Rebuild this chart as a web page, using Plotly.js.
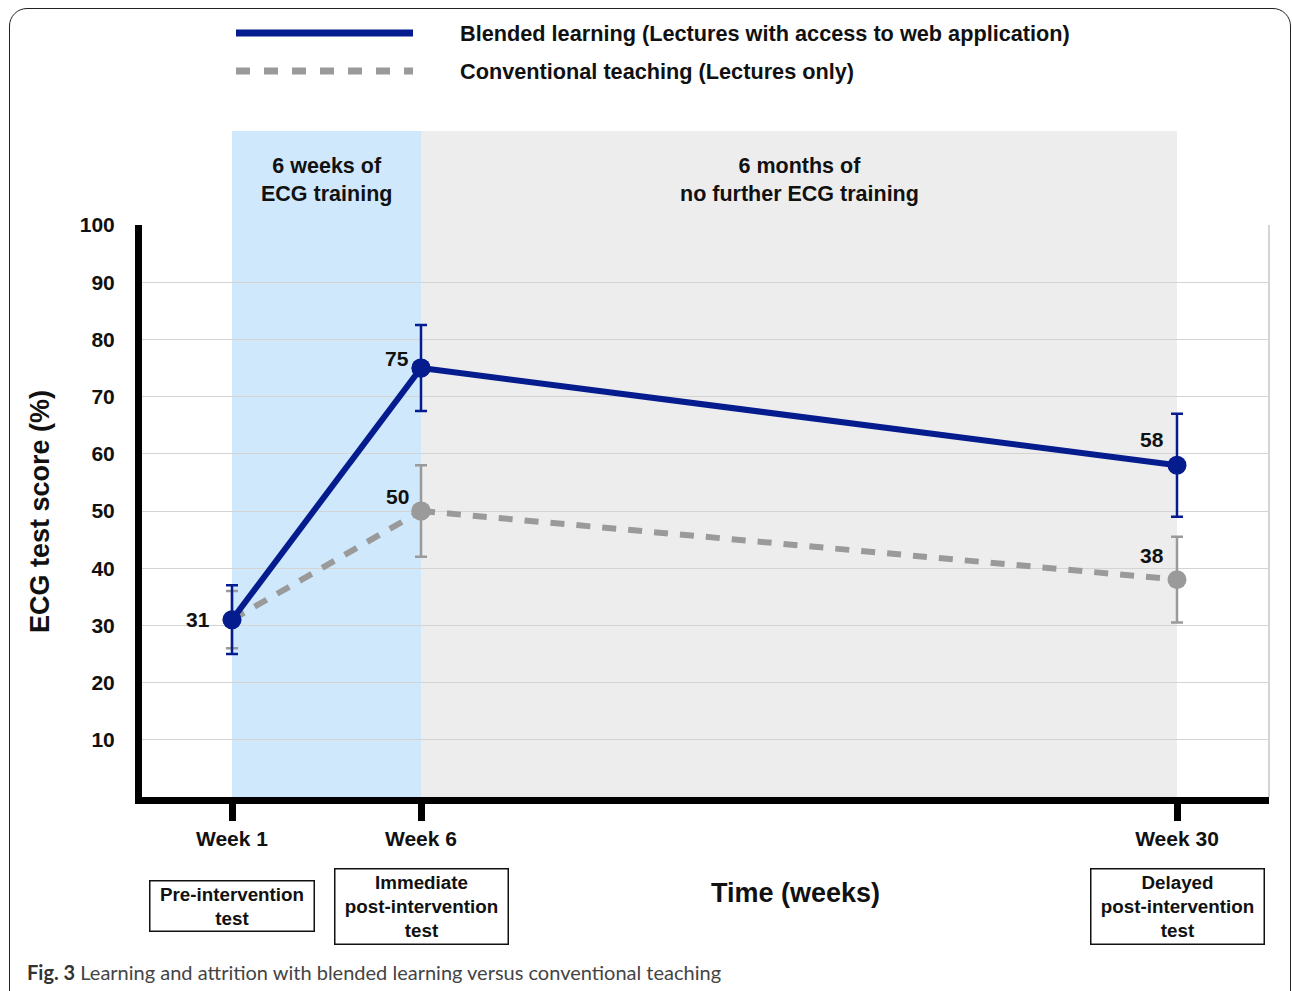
<!DOCTYPE html>
<html><head><meta charset="utf-8">
<script src="https://cdn.plot.ly/plotly-3.0.1.min.js"></script>
<style>
html,body{margin:0;padding:0;background:#fff;}
#frame{position:absolute;left:9px;top:8px;width:1282px;height:1100px;border:1.6px solid #222;border-radius:18px;box-sizing:border-box;}
#chart{position:absolute;left:0;top:0;width:1292px;height:991px;}
</style></head><body>
<div id="frame"></div><div id="chart"></div>
<script>
// ---- data ----
const weeks = [1, 6, 30];
const weekLabels = ['Week 1', 'Week 6', 'Week 30'];
const testLabels = ['Pre-intervention<br>test', 'Immediate<br>post-intervention<br>test', 'Delayed<br>post-intervention<br>test'];
const blendedScores = [31, 75, 58];
const blendedErr = [6, 7.5, 9];
const conventionalScores = [31, 50, 38];
const conventionalErr = [5, 8, 7.5];
const conventionalShowLabel = [false, true, true];
const yTicks = [10, 20, 30, 40, 50, 60, 70, 80, 90, 100];
const phaseStart = [1, 6];
const phaseEnd = [6, 30];
const phaseLabels = ['6 weeks of<br>ECG training', '6 months of<br>no further ECG training'];
const seriesNames = ['Blended learning (Lectures with access to web application)', 'Conventional teaching (Lectures only)'];
const breakWeek = 6;   // the time axis changes scale here (training phase / follow-up phase)

// ---- styles ----
const BLUE = '#051c8e', GRAY = '#9a9a9a';
const FONT = '"Liberation Sans", Arimo, Arial, Helvetica, sans-serif';
const W = 1292, H = 991;
const L = 142, R = 23, T = 131, B = 194;
const plotW = W - L - R, plotH = H - T - B;
const yTop = (797 - 225) / plotH;
const px = p => (p - L) / plotW;
const py = p => (797 - p) / plotH;
const split = px(421);
const axFor = w => (w <= breakWeek ? 'x' : 'x2');
const boldFont = (s) => ({family: FONT, size: s, color: '#111', weight: 'bold'});

// segment traces: phase 1 on x, phase 2 on x2
function segTraces(name, scores, errs, color, dash) {
  const i1 = weeks.map((w, i) => i).filter(i => weeks[i] <= breakWeek);
  const i2 = weeks.map((w, i) => i).filter(i => weeks[i] >= breakWeek);
  const mk = (idx, xa) => ({
    x: idx.map(i => weeks[i]), y: idx.map(i => scores[i]), xaxis: xa, yaxis: 'y',
    type: 'scatter', mode: 'lines+markers', name: name, showlegend: false, cliponaxis: false,
    line: {color: color, width: 6, dash: dash},
    marker: {color: color, size: 19},
    error_y: {type: 'data', array: idx.map(i => errs[i]), visible: true, color: color, thickness: 2.5, width: 6}
  });
  return [mk(i1, 'x'), mk(i2, 'x2')];
}

const traces = [
  ...segTraces(seriesNames[1], conventionalScores, conventionalErr, GRAY, '14px,12px'),
  ...segTraces(seriesNames[0], blendedScores, blendedErr, BLUE, 'solid')
];

const shapes = [];
const annotations = [];
const phaseColors = ['#cfe8fc', '#ededed'];
phaseStart.forEach((s, i) => {
  const xa = i === 0 ? 'x' : 'x2';
  shapes.push({type: 'rect', layer: 'below', xref: xa, yref: 'paper', x0: s, x1: phaseEnd[i], y0: 0, y1: 1,
    fillcolor: phaseColors[i], line: {width: 0}});
  annotations.push({xref: xa, yref: 'paper', x: (s + phaseEnd[i]) / 2, y: py(180), text: phaseLabels[i],
    showarrow: false, font: boldFont(21.5), xanchor: 'center', yanchor: 'middle'});
});
// right border of plot
shapes.push({type: 'line', layer: 'below', xref: 'paper', yref: 'paper', x0: 1, x1: 1, y0: 0, y1: yTop, line: {color: '#d4d4d4', width: 2}});

// legend
const legY = [py(33), py(71)];
shapes.push({type: 'line', xref: 'paper', yref: 'paper', x0: px(236), x1: px(413), y0: legY[0], y1: legY[0], line: {color: BLUE, width: 7}});
shapes.push({type: 'line', xref: 'paper', yref: 'paper', x0: px(236), x1: px(413), y0: legY[1], y1: legY[1], line: {color: GRAY, width: 7, dash: '14px,14px'}});
seriesNames.forEach((n, i) => {
  annotations.push({xref: 'paper', yref: 'paper', x: px(458), y: legY[i], text: n, showarrow: false,
    xanchor: 'left', yanchor: 'middle', font: boldFont(21.7)});
});

// point labels
const blShift = [[-34, 0], [-24, 10], [-25, 26]];
const cvShift = [[-34, 0], [-24, 15], [-25, 24]];
blendedScores.forEach((v, i) => {
  annotations.push({xref: axFor(weeks[i]), yref: 'y', x: weeks[i], y: v, text: String(v), showarrow: false,
    xanchor: 'center', yanchor: 'middle', xshift: blShift[i][0], yshift: blShift[i][1], font: boldFont(21)});
});
conventionalScores.forEach((v, i) => {
  if (!conventionalShowLabel[i]) return;
  annotations.push({xref: axFor(weeks[i]), yref: 'y', x: weeks[i], y: v, text: String(v), showarrow: false,
    xanchor: 'center', yanchor: 'middle', xshift: cvShift[i][0], yshift: cvShift[i][1], font: boldFont(21)});
});

// test boxes
const boxW = [159, 168, 168];
testLabels.forEach((t, i) => {
  annotations.push({xref: axFor(weeks[i]), yref: 'paper', x: weeks[i], y: py(906), text: t, showarrow: false,
    xanchor: 'center', yanchor: 'middle', width: boxW[i], bordercolor: '#111', borderwidth: 1.5, borderpad: 2,
    bgcolor: '#fff', font: boldFont(18.8)});
});

// axis titles
annotations.push({xref: 'paper', yref: 'paper', x: px(795), y: py(893), xanchor: 'center', yanchor: 'middle',
  text: 'Time (weeks)', showarrow: false, font: boldFont(27)});
annotations.push({xref: 'paper', yref: 'paper', x: px(40), y: py(512), xanchor: 'center', yanchor: 'middle',
  text: 'ECG test score (%)', showarrow: false, textangle: -90, font: boldFont(27)});

// caption
annotations.push({xref: 'paper', yref: 'paper', x: px(25), y: py(972), xanchor: 'left', yanchor: 'middle',
  text: '<b style="color:#333">Fig. 3</b> Learning and attrition with blended learning versus conventional teaching', showarrow: false,
  font: {family: 'Lato, "Open Sans", sans-serif', size: 20, color: '#444'}});

const xCommon = {
  showgrid: false, zeroline: false, showline: true, linecolor: '#000', linewidth: 7,
  ticks: 'outside', ticklen: 17, tickwidth: 7, tickcolor: '#000', ticklabelstandoff: 0,
  tickfont: boldFont(21), fixedrange: true, anchor: 'y'
};
const layout = {
  width: W, height: H,
  margin: {l: L, r: R, t: T, b: B, pad: 0},
  paper_bgcolor: 'rgba(0,0,0,0)', plot_bgcolor: 'rgba(0,0,0,0)',
  showlegend: false,
  xaxis: Object.assign({}, xCommon, {
    domain: [0, split], range: [1 - (232 - L) / 37.8, breakWeek],
    tickvals: weeks.filter(w => w <= breakWeek), ticktext: weekLabels.filter((t, i) => weeks[i] <= breakWeek)
  }),
  xaxis2: Object.assign({}, xCommon, {
    domain: [split, 1], range: [breakWeek, 30 + 92 / 31.5],
    tickvals: weeks.filter(w => w > breakWeek), ticktext: weekLabels.filter((t, i) => weeks[i] > breakWeek)
  }),
  yaxis: {
    domain: [0, yTop], range: [0, 100], tickvals: yTicks, anchor: 'x',
    showgrid: true, gridcolor: '#d4d4d4', gridwidth: 1, zeroline: false,
    showline: true, linecolor: '#000', linewidth: 7, ticks: '', ticklabelstandoff: 16,
    tickfont: boldFont(21), fixedrange: true
  },
  shapes: shapes,
  annotations: annotations
};

Plotly.newPlot('chart', traces, layout, {displayModeBar: false, staticPlot: true});
</script>
</body></html>
